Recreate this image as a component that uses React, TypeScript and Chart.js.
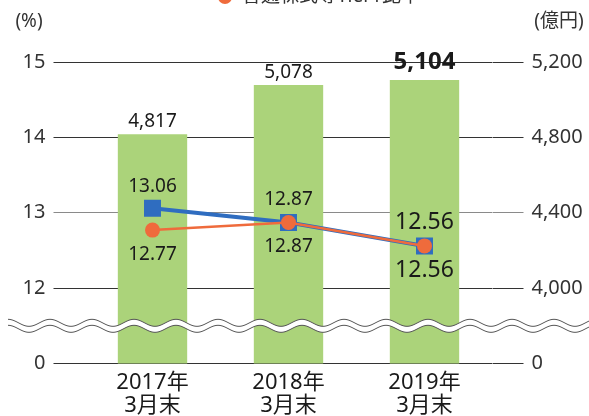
import { useEffect, useRef } from 'react';
import { Chart, registerables } from 'chart.js';

Chart.register(...registerables);

// ---- data ----
const categories = [
  ['2017年', '3月末'],
  ['2018年', '3月末'],
  ['2019年', '3月末'],
];
const assetValues = [4817, 5078, 5104]; // 億円 (bars, right axis)
const tier1Ratio = [13.06, 12.87, 12.56]; // blue line (%)
const cet1Ratio = [12.77, 12.87, 12.56]; // orange line (%)
const leftTickValues = [11, 12, 13, 14, 15]; // 11 = broken-axis position of "0"
const leftTickLabels = ['0', '12', '13', '14', '15'];
const rightTickValues = [3600, 4000, 4400, 4800, 5200]; // 3600 = broken-axis position of "0"
const rightTickLabels = ['0', '4,000', '4,400', '4,800', '5,200'];
const legendLabel = '普通株式等Tier1比率';
const leftUnit = '(%)';
const rightUnit = '(億円)';

// ---- styles ----
const FONT = '"Noto Sans", "Noto Sans CJK JP", sans-serif';
const GREEN = '#abd37a';
const BLUE = '#2f6dc0';
const ORANGE = '#ef6b3c';
const TEXT = '#1a1a1a';
const AXIS_TEXT = '#333333';

const barLabelStyle = [
  { size: 19, weight: 'normal', offset: 13 },
  { size: 19, weight: 'normal', offset: 12 },
  { size: 24, weight: 'bold', offset: 18 },
];
const blueLabelStyle = [
  { size: 19, offset: -22 },
  { size: 19, offset: -23 },
  { size: 23, offset: -23 },
];
const orangeLabelStyle = [
  { size: 19, offset: 24.5 },
  { size: 19, offset: 24 },
  { size: 23, offset: 25 },
];

const wavePlugin = {
  id: 'wave',
  afterDatasetDraw(chart: any, args: any) {
    if (args.index !== 0) return;
    const { ctx } = chart;
    const y = chart.scales.y;
    const mid = (y.getPixelForValue(12) + y.getPixelForValue(11)) / 2;
    const amp = 3.5;
    const gap = 6;
    const period = 42;
    const x0 = 8;
    const x1 = chart.width + 2;
    const top = (x: number) => mid - gap / 2 - amp * Math.cos(((x - x0) / period) * Math.PI * 2);
    ctx.save();
    ctx.beginPath();
    for (let x = x0; x <= x1; x += 1) {
      const yy = top(x);
      if (x === x0) ctx.moveTo(x, yy);
      else ctx.lineTo(x, yy);
    }
    for (let x = x1; x >= x0; x -= 1) ctx.lineTo(x, top(x) + gap);
    ctx.closePath();
    ctx.fillStyle = '#ffffff';
    ctx.fill();
    ctx.strokeStyle = '#555555';
    ctx.lineWidth = 1;
    ctx.beginPath();
    for (let x = x0; x <= x1; x += 1) {
      const yy = top(x);
      if (x === x0) ctx.moveTo(x, yy);
      else ctx.lineTo(x, yy);
    }
    ctx.stroke();
    ctx.beginPath();
    for (let x = x0; x <= x1; x += 1) {
      const yy = top(x) + gap;
      if (x === x0) ctx.moveTo(x, yy);
      else ctx.lineTo(x, yy);
    }
    ctx.stroke();
    ctx.restore();
  },
};

const labelsPlugin = {
  id: 'labels',
  afterDraw(chart: any) {
    const { ctx } = chart;
    ctx.save();
    ctx.textAlign = 'center';
    ctx.textBaseline = 'middle';
    ctx.fillStyle = TEXT;
    const barMeta = chart.getDatasetMeta(0);
    barMeta.data.forEach((el: any, i: number) => {
      const s = barLabelStyle[i];
      ctx.font = `${s.weight} ${s.size}px ${FONT}`;
      ctx.fillText(assetValues[i].toLocaleString('en-US'), el.x, el.y - s.offset);
    });
    const blueMeta = chart.getDatasetMeta(1);
    blueMeta.data.forEach((el: any, i: number) => {
      const s = blueLabelStyle[i];
      ctx.font = `normal ${s.size}px ${FONT}`;
      ctx.fillText(tier1Ratio[i].toFixed(2), el.x, el.y + s.offset);
    });
    const orangeMeta = chart.getDatasetMeta(2);
    orangeMeta.data.forEach((el: any, i: number) => {
      const s = orangeLabelStyle[i];
      ctx.font = `normal ${s.size}px ${FONT}`;
      ctx.fillText(cet1Ratio[i].toFixed(2), el.x, el.y + s.offset);
    });
    // unit labels
    ctx.fillStyle = AXIS_TEXT;
    ctx.font = `normal 19px ${FONT}`;
    ctx.fillText(leftUnit, 29, 22);
    ctx.fillText(rightUnit, 559, 22);
    // legend (partly above the visible area)
    ctx.beginPath();
    ctx.arc(225, -3, 7, 0, Math.PI * 2);
    ctx.fillStyle = ORANGE;
    ctx.fill();
    ctx.fillStyle = AXIS_TEXT;
    ctx.textAlign = 'left';
    ctx.font = `normal 19px ${FONT}`;
    ctx.fillText(legendLabel, 242, -3);
    ctx.restore();
  },
};

export default function App() {
  const ref = useRef<HTMLCanvasElement | null>(null);
  useEffect(() => {
    document.body.style.margin = '0';
    const canvas = ref.current;
    if (!canvas) return;
    const chart = new Chart(canvas, {
      type: 'bar',
      data: {
        labels: categories as any,
        datasets: [
          {
            type: 'bar',
            data: assetValues,
            yAxisID: 'y1',
            backgroundColor: GREEN,
            borderWidth: 0,
            barPercentage: 0.51,
            categoryPercentage: 1,
            order: 3,
          } as any,
          {
            type: 'line',
            data: tier1Ratio,
            yAxisID: 'y',
            borderColor: BLUE,
            backgroundColor: BLUE,
            borderWidth: 4,
            pointStyle: 'rect',
            pointRadius: 12,
            pointBorderWidth: 0,
            pointBackgroundColor: BLUE,
            order: 2,
          } as any,
          {
            type: 'line',
            data: cet1Ratio,
            yAxisID: 'y',
            borderColor: ORANGE,
            backgroundColor: ORANGE,
            borderWidth: 2.5,
            pointStyle: 'circle',
            pointRadius: 7.5,
            pointBorderWidth: 0,
            pointBackgroundColor: ORANGE,
            order: 1,
          } as any,
        ],
      },
      options: {
        animation: false,
        responsive: false,
        devicePixelRatio: 1,
        layout: { padding: { top: 62, left: 0, right: 0, bottom: 0 } },
        plugins: { legend: { display: false }, tooltip: { enabled: false } },
        scales: {
          x: {
            grid: { display: false, drawTicks: false },
            border: { display: false },
            ticks: {
              padding: 8,
              color: TEXT,
              font: { family: FONT, size: 22, lineHeight: 1.05 },
            },
            afterFit: (s: any) => {
              s.height = 52.5;
            },
          },
          y: {
            position: 'left',
            min: 11,
            max: 15,
            afterBuildTicks: (s: any) => {
              s.ticks = leftTickValues.map((v) => ({ value: v }));
            },
            ticks: {
              padding: 8,
              color: AXIS_TEXT,
              font: { family: FONT, size: 20 },
              callback: (v: any) => leftTickLabels[leftTickValues.indexOf(Number(v))] ?? '',
            },
            grid: {
              color: (c: any) => (c.tick && c.tick.value === 13 ? '#8a8a8a' : '#333333'),
              tickColor: (c: any) => (c.tick && c.tick.value === 13 ? '#8a8a8a' : '#333333'),
              tickLength: 31,
              lineWidth: 1,
            },
            border: { display: false },
            afterFit: (s: any) => {
              s.width = 84.5;
            },
          },
          y1: {
            position: 'right',
            min: 3600,
            max: 5200,
            afterBuildTicks: (s: any) => {
              s.ticks = rightTickValues.map((v) => ({ value: v }));
            },
            ticks: {
              padding: 8,
              color: AXIS_TEXT,
              font: { family: FONT, size: 20 },
              callback: (v: any) => rightTickLabels[rightTickValues.indexOf(Number(v))] ?? '',
            },
            grid: {
              drawOnChartArea: false,
              tickColor: (c: any) => (c.tick && c.tick.value === 4400 ? '#8a8a8a' : '#333333'),
              tickLength: 31,
              lineWidth: 1,
            },
            border: { display: false },
            afterFit: (s: any) => {
              s.width = 96.5;
            },
          },
        },
      } as any,
      plugins: [wavePlugin, labelsPlugin],
    });
    return () => chart.destroy();
  }, []);
  return (
    <div style={{ width: 589, height: 416 }}>
      <canvas ref={ref} width={589} height={416} style={{ display: 'block', width: 589, height: 416 }} />
    </div>
  );
}
